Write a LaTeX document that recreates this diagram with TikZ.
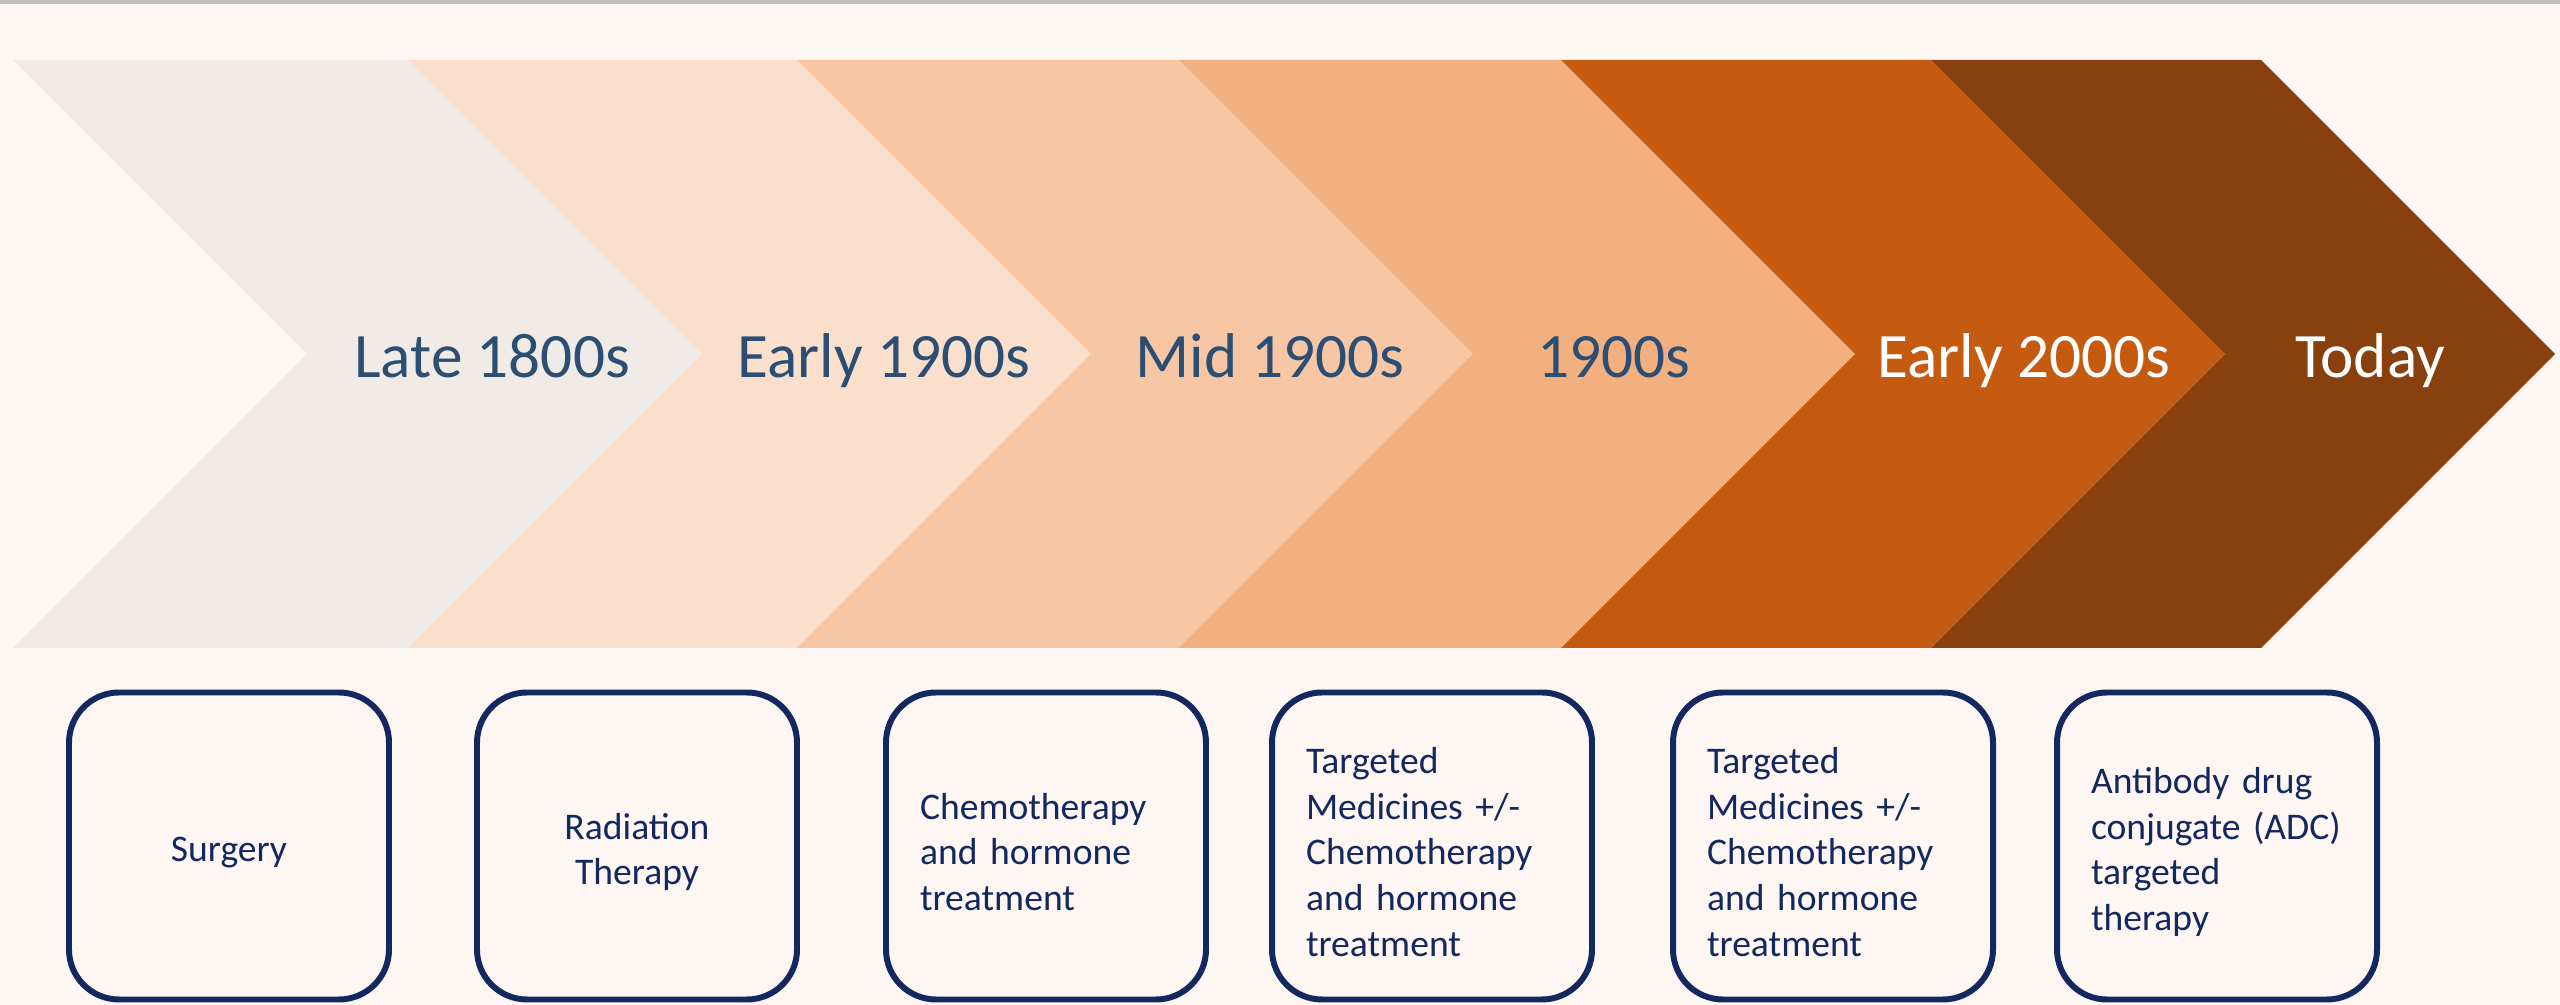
\documentclass[tikz,border=0pt]{standalone}
\usepackage{fontspec}
\setmainfont{Carlito}
\usepackage{xcolor}
\usepackage{tikz}
\usetikzlibrary{positioning}
\definecolor{paper}{HTML}{FDF6F3}
\definecolor{rule}{HTML}{BFBFBF}
\definecolor{bandA}{HTML}{F0EBE6}
\definecolor{bandB}{HTML}{FADFCC}
\definecolor{bandC}{HTML}{F7C6A5}
\definecolor{bandD}{HTML}{F2AF7F}
\definecolor{bandE}{HTML}{C55A11}
\definecolor{bandF}{HTML}{89400F}
\definecolor{slate}{HTML}{2B4E72}
\definecolor{navy}{HTML}{13285F}

\begin{document}
\begin{tikzpicture}[
  x=0.1mm, y=-0.1mm,
  era/.style={text=slate,font=\fontsize{18}{21}\selectfont,inner sep=0pt,anchor=base},
  eraw/.style={era,text=white},
  stage/.style={draw=navy,line width=1.7pt,rounded corners=5mm,fill=paper,
    minimum width=3.2cm,minimum height=3.07cm,inner xsep=3.4mm,
    text width=2.52cm,align=left,text=navy,font=\fontsize{10.7}{13}\selectfont,
    execute at begin node={\rule{0pt}{10.8pt}}},
  mid/.style={stage,align=center}
]
\useasboundingbox[fill=paper] (0,0) rectangle (2560,1005);
\fill[rule] (0,0) rectangle (2560,4);
% chevrons, left top x / right top x / colour
\foreach \a/\b/\c in {13/408/bandA,408/797/bandB,797/1179/bandC,1179/1561/bandD,1561/1931/bandE,1931/2261/bandF}
  \fill[\c] (\a,60) -- (\b,60) -- (\b+294,354) -- (\b,648) -- (\a,648) -- (\a+294,354) -- cycle;
\node[era] (late) at (492,378) {Late 1800s};
\node[era] (early) at (884,378) {Early 1900s};
\node[era] (midc) at (1270,378) {Mid 1900s};
\node[era] (nineteen) at (1614,378) {1900s};
\node[eraw] (twothous) at (2024,378) {Early 2000s};
\node[eraw] (today) at (2370,378) {Today};
% treatments
\node[mid] (surgery) at (229,846) {Surgery};
\node[mid] (radiation) at (637,846) {Radiation\\Therapy};
\node[stage] (chemo) at (1046,846) {Chemotherapy\\and hormone\\treatment};
\node[stage] (targetA) at (1432,846) {Targeted\\Medicines +/-\\Chemotherapy\\and hormone\\treatment};
\node[stage] (targetB) at (1833,846) {Targeted\\Medicines +/-\\Chemotherapy\\and hormone\\treatment};
\node[stage] (adc) at (2217,846) {Antibody drug\\conjugate (ADC)\\targeted\\therapy};
\end{tikzpicture}
\end{document}
